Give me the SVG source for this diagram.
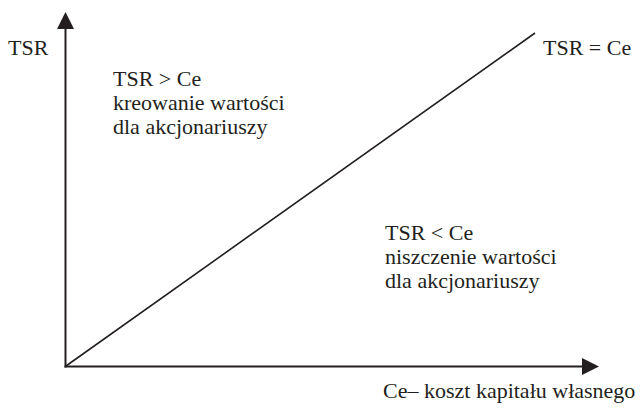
<svg xmlns="http://www.w3.org/2000/svg" width="640" height="408" viewBox="0 0 640 408">
  <style>
    text { font-family: 'Liberation Serif', Tinos, 'Times New Roman', Times, 'DejaVu Serif', serif; font-size: 22px; fill: #231f20; }
    .ax { stroke: #231f20; stroke-width: 2; fill: none; }
    .diag { stroke: #231f20; stroke-width: 1.6; fill: none; }
    .head { fill: #231f20; }
  </style>
  <rect width="640" height="408" fill="#ffffff"/>
  <g id="connectors">
    <line class="ax" x1="65.5" y1="367.5" x2="65.5" y2="26"/>
    <polygon class="head" points="65.5,12 57,29 74,29"/>
    <line class="ax" x1="64.5" y1="366.5" x2="585" y2="366.5"/>
    <polygon class="head" points="599,366.5 582,358 582,375"/>
    <line class="diag" x1="66" y1="366" x2="535" y2="33"/>
  </g>
  <g id="y-label"><text x="8" y="55">TSR</text></g>
  <g id="line-label"><text x="543" y="55">TSR = Ce</text></g>
  <g id="upper-region">
    <text x="113" y="86">TSR &gt; Ce</text>
    <text x="113" y="110">kreowanie wartości</text>
    <text x="113" y="134">dla akcjonariuszy</text>
  </g>
  <g id="lower-region">
    <text x="385" y="240">TSR &lt; Ce</text>
    <text x="385" y="264">niszczenie wartości</text>
    <text x="385" y="288">dla akcjonariuszy</text>
  </g>
  <g id="x-label"><text x="383" y="398">Ce– koszt kapitału własnego</text></g>
</svg>
